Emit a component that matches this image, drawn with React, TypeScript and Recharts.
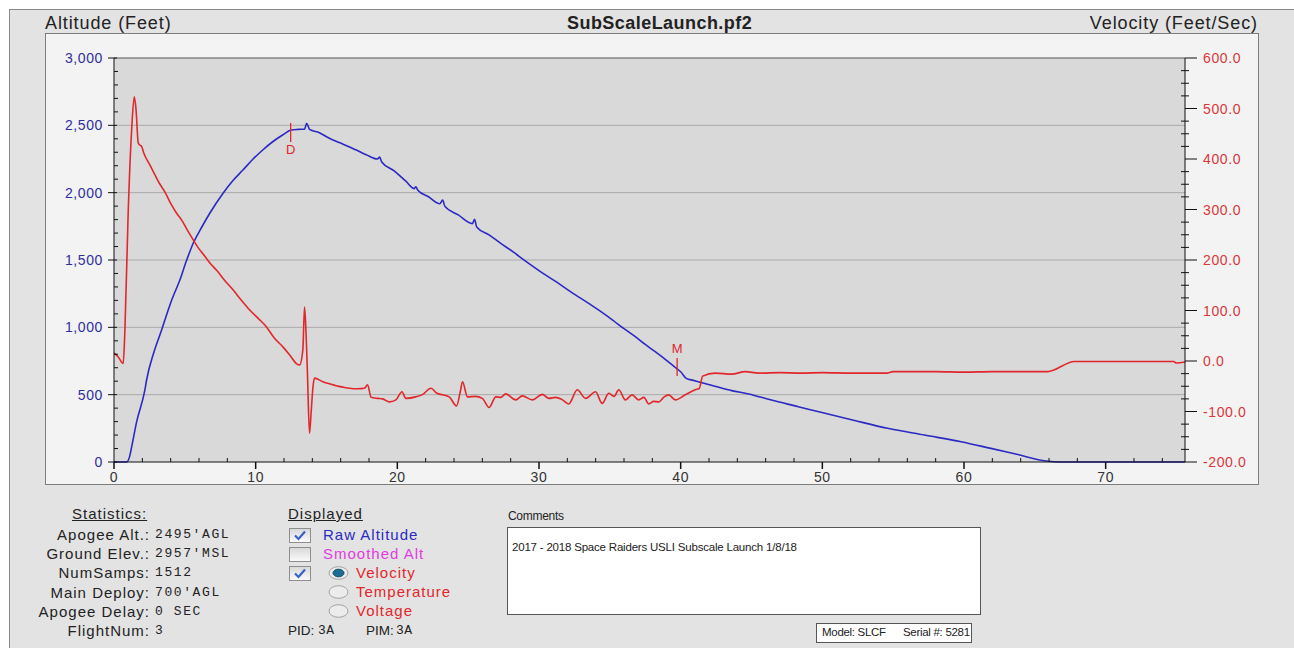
import React from 'react';
import { ComposedChart, Line, XAxis, YAxis, CartesianGrid, ReferenceLine, ReferenceDot } from 'recharts';

// altitude trace (seconds, feet AGL)
const altTime = [
  0, 0.9, 1.1, 1.25, 1.6, 2.18, 2.3, 2.8, 3.36, 3.59, 4.1, 4.65, 5.1, 5.59, 6.2, 6.76, 7.7, 8.4, 9.1, 9.8,
  10.5, 11.2, 11.9, 12.5, 13.0, 13.45, 13.6, 13.8, 14.5, 15.2, 16.0, 17.1, 17.8, 18.6, 18.75, 18.9, 19.8, 20.6,
  21.2, 21.3, 21.45, 22.2, 23.0, 23.2, 23.35, 24.3, 25.3, 25.45, 25.6, 26.5, 27.3, 28.2, 29.1, 30.1, 31.2,
  32.3, 33.5, 34.4, 35.2, 36.0, 36.8, 37.5, 38.2, 39.0, 39.7, 40.0, 40.4, 40.9, 41.5, 42.5, 43.6, 44.8,
  46.4, 48.3, 49.9, 52.2, 54.6, 57.2, 59.8, 61.9, 63.8, 65.8, 66.8, 75.6,
];
const altFeet = [
  0, 0, 40, 114, 300, 535, 609, 810, 980, 1054, 1210, 1351, 1490, 1624, 1745, 1847, 1996, 2090, 2168, 2248,
  2317, 2378, 2428, 2465, 2470, 2472, 2515, 2470, 2445, 2404, 2368, 2317, 2282, 2250, 2264, 2228, 2160, 2085,
  2030, 2044, 2018, 1970, 1918, 1946, 1900, 1835, 1770, 1802, 1745, 1685, 1624, 1558, 1488, 1414, 1339,
  1260, 1178, 1115, 1054, 990, 931, 873, 819, 755, 696, 670, 621, 606, 588, 560, 530, 505,
  460, 411, 369, 310, 250, 200, 151, 101, 55, 7, 0, 0,
];

// velocity trace (seconds, feet/sec)
const velTime = [
  0, 0.3, 0.65, 0.77, 1.0, 1.25, 1.43, 1.55, 1.71, 1.8, 1.95, 2.1, 2.54, 2.9, 3.2, 3.59, 4.0, 4.41, 4.8, 5.2,
  5.59, 6.0, 6.4, 6.8, 7.23, 7.8, 8.4, 9.0, 9.58, 10.2, 10.75, 11.3, 11.92, 12.4, 12.87, 13.1, 13.33, 13.45,
  13.55, 13.65, 13.8, 13.92, 14.05, 14.15, 14.74, 15.2, 15.68, 16.2, 16.62, 17.2, 17.68, 17.9, 18.15, 18.6,
  18.96, 19.44, 19.9, 20.33, 20.6, 21.3, 21.8, 22.37, 22.8, 23.2, 23.66, 24.18, 24.45, 24.6, 24.95, 25.5,
  26.0, 26.48, 26.95, 27.3, 27.65, 28.36, 28.82, 29.53, 30.23, 30.7, 31.18, 31.6, 32.1, 32.7, 33.29, 33.99,
  34.46, 34.93, 35.3, 35.63, 36.1, 36.57, 37.04, 37.4, 37.75, 38.1, 38.45, 38.8, 39.15, 39.63, 40.33, 41.03,
  41.32, 41.55, 42.44, 43.6, 44.56, 45.5, 47, 48.5, 50, 52, 54.6, 55, 58, 60, 62, 64, 65.9, 67.8, 70, 72,
  74.8, 75.0, 75.6,
];
const velFps = [
  16, 8, -5, 61, 293, 460, 523, 500, 432, 428, 425, 412, 388, 368, 352, 335, 312, 293, 278, 258,
  240, 222, 208, 193, 180, 160, 141, 120, 101, 84, 68, 46, 28, 12, -5, -8, 22, 107,
  60, -20, -143, -100, -50, -34, -41, -45, -49, -52, -54, -55, -54, -47, -72, -74,
  -75, -81, -77, -61, -74, -71, -66, -54, -64, -67, -71, -89, -60, -41, -71, -70,
  -74, -92, -71, -72, -65, -77, -69, -77, -66, -74, -72, -76, -85, -57, -74, -61,
  -84, -64, -70, -57, -77, -67, -77, -72, -85, -80, -81, -72, -67, -77, -67, -57,
  -54, -30, -24, -26, -21, -24, -23, -24, -23, -24, -24, -21, -21, -22, -21, -21, -21, -1, -1, -1,
  -1, -4, -2,
];

const altMajor = [0, 500, 1000, 1500, 2000, 2500, 3000];
const altGrid = [500, 1000, 1500, 2000, 2500];
const altTicks = Array.from({ length: 31 }, (_, i) => i * 100);
const velTicks = Array.from({ length: 33 }, (_, i) => -200 + i * 25);
const timeTicks = Array.from({ length: 38 }, (_, i) => i * 2);

const markers = [
  { t: 12.47, alt: 2465, label: 'D', below: true },
  { t: 39.75, alt: 690, label: 'M', below: false },
];

const stats = [
  ['Apogee Alt.:', "2495'AGL"],
  ['Ground Elev.:', "2957'MSL"],
  ['NumSamps:', '1512'],
  ['Main Deploy:', "700'AGL"],
  ['Apogee Delay:', '0 SEC'],
  ['FlightNum:', '3'],
];

const BLUE = '#2a2ac2';
const RED = '#e0272c';
const ARIAL = 'Arial, "Liberation Sans", sans-serif';
const MONO = '"Courier New", "Liberation Mono", monospace';

// merge both traces onto one time axis
const allTimes = Array.from(new Set([...altTime, ...velTime])).sort((a, b) => a - b);
const data = allTimes.map((t) => {
  const ai = altTime.indexOf(t);
  const vi = velTime.indexOf(t);
  return { t, alt: ai >= 0 ? altFeet[ai] : null, vel: vi >= 0 ? velFps[vi] : null };
});

const AltTick = (props: any) => {
  const { x, y, payload } = props;
  const v = payload.value;
  const major = altMajor.includes(v);
  return (
    <g>
      <line x1={major ? x - 6 : x} x2={major ? x + 3 : x + 4} y1={y} y2={y} stroke="#111" />
      {major && (
        <text x={x - 11} y={y + 5} textAnchor="end" fill="#2e2ea2" fontSize={14} letterSpacing={0.6} fontFamily={ARIAL}>
          {v.toLocaleString('en-US')}
        </text>
      )}
    </g>
  );
};

const VelTick = (props: any) => {
  const { x, y, payload } = props;
  const v = payload.value;
  const major = v % 100 === 0;
  return (
    <g>
      <line x1={major ? x : x - 4} x2={major ? x + 12 : x + 4} y1={y} y2={y} stroke="#111" />
      {major && (
        <text x={x + 18} y={y + 5} textAnchor="start" fill="#d8383a" fontSize={14} letterSpacing={0.6} fontFamily={ARIAL}>
          {v.toFixed(1)}
        </text>
      )}
    </g>
  );
};

const TimeTick = (props: any) => {
  const { x, y, payload } = props;
  const v = payload.value;
  const major = v % 10 === 0;
  return (
    <g>
      <line x1={x} x2={x} y1={major ? y : y - 4} y2={major ? y + 7 : y} stroke="#111" strokeWidth={major ? 1.5 : 1} />
      {major && (
        <text x={x} y={y + 20} textAnchor="middle" fill="#333" fontSize={14} letterSpacing={0.6} fontFamily={ARIAL}>
          {v}
        </text>
      )}
    </g>
  );
};

const EventMark = (props: any) => {
  const { cx, cy, label, below } = props;
  return (
    <g>
      <line x1={cx} x2={cx} y1={below ? cy - 7 : cy - 11} y2={below ? cy + 12 : cy + 7} stroke={RED} strokeWidth={1.3} />
      <text x={cx} y={below ? cy + 24 : cy - 16} textAnchor="middle" fill={RED} fontSize={13} fontFamily={ARIAL}>
        {label}
      </text>
    </g>
  );
};

const CheckBox = ({ x, y, checked }: { x: number; y: number; checked: boolean }) => (
  <svg style={{ position: 'absolute', left: x, top: y }} width={23} height={16}>
    <defs>
      <linearGradient id={`cb${y}`} x1="0" y1="0" x2="0" y2="1">
        <stop offset="0%" stopColor="#d8d8d8" />
        <stop offset="100%" stopColor="#fbfbfb" />
      </linearGradient>
    </defs>
    <rect x={0.5} y={0.5} width={21} height={14} fill={`url(#cb${y})`} stroke="#8e8e8e" />
    {checked && <path d="M6 7.5 L9.5 11 L16 3.5" stroke="#3a5fc8" strokeWidth={2.2} fill="none" />}
  </svg>
);

const Radio = ({ x, y, on }: { x: number; y: number; on: boolean }) => (
  <svg style={{ position: 'absolute', left: x, top: y }} width={22} height={15}>
    <ellipse cx={10.5} cy={7} rx={9.5} ry={6.3} fill="#ececec" stroke="#a2a2a2" />
    {on && <ellipse cx={10.5} cy={7} rx={5.5} ry={3.8} fill="#1f6d93" stroke="#114a66" />}
  </svg>
);

const txt = (left: number, cy: number, extra: React.CSSProperties = {}) => ({
  position: 'absolute' as const,
  left,
  top: cy - 10,
  lineHeight: '20px',
  fontSize: 15,
  letterSpacing: 1,
  color: '#222',
  whiteSpace: 'pre' as const,
  ...extra,
});

const App: React.FC = () => {
  return (
    <div style={{ position: 'absolute', left: 0, top: 0, width: 1294, height: 648, background: '#fff', overflow: 'hidden', fontFamily: ARIAL }}>
      <div style={{ position: 'absolute', left: 9, top: 9, width: 1290, height: 645, background: '#e3e3e3', borderLeft: '1px solid #8a8a8a', borderTop: '1px solid #8a8a8a' }} />

      <div style={{ position: 'absolute', left: 45, top: 12, lineHeight: '22px', fontSize: 18, letterSpacing: 0.9, color: '#222' }}>Altitude (Feet)</div>
      <div style={{ position: 'absolute', left: 567, top: 12, lineHeight: '22px', fontSize: 18, fontWeight: 'bold', letterSpacing: 0.45, color: '#222' }}>SubScaleLaunch.pf2</div>
      <div style={{ position: 'absolute', right: 1294 - 1258, top: 12, lineHeight: '22px', fontSize: 18, letterSpacing: 0.9, color: '#222' }}>Velocity (Feet/Sec)</div>

      <div style={{ position: 'absolute', left: 45, top: 33, width: 1214, height: 452, boxSizing: 'border-box', border: '1px solid #7d7d7d', background: '#f3f3f3' }}>
        <ComposedChart width={1212} height={450} data={data} margin={{ top: 24, left: 8, right: 13, bottom: 2 }}>
          <CartesianGrid horizontal={false} vertical={false} fill="#d9d9d9" fillOpacity={1} />
          <XAxis
            dataKey="t"
            type="number"
            domain={[0, 75.6]}
            allowDataOverflow
            ticks={timeTicks}
            interval={0}
            tick={(p: any) => <TimeTick {...p} />}
            tickSize={0}
            tickMargin={0}
            tickLine={false}
            axisLine={{ stroke: '#111' }}
            height={20}
          />
          <YAxis
            yAxisId="alt"
            orientation="left"
            type="number"
            domain={[0, 3000]}
            ticks={altTicks}
            interval={0}
            tick={(p: any) => <AltTick {...p} />}
            tickSize={0}
            tickMargin={0}
            tickLine={false}
            axisLine={{ stroke: '#111' }}
            width={60}
          />
          <YAxis
            yAxisId="vel"
            orientation="right"
            type="number"
            domain={[-200, 600]}
            ticks={velTicks}
            interval={0}
            tick={(p: any) => <VelTick {...p} />}
            tickSize={0}
            tickMargin={0}
            tickLine={false}
            axisLine={{ stroke: '#111' }}
            width={60}
          />
          {altGrid.map((v) => (
            <ReferenceLine key={v} yAxisId="alt" y={v} stroke="#a9a9a9" />
          ))}
          <ReferenceLine yAxisId="alt" y={3000} stroke="#555" />
          <Line yAxisId="alt" dataKey="alt" type="monotone" stroke={BLUE} strokeWidth={1.6} dot={false} connectNulls isAnimationActive={false} />
          <Line yAxisId="vel" dataKey="vel" type="monotone" stroke={RED} strokeWidth={1.6} dot={false} connectNulls isAnimationActive={false} />
          {markers.map((m) => (
            <ReferenceDot
              key={m.label}
              yAxisId="alt"
              x={m.t}
              y={m.alt}
              r={0}
              shape={(p: any) => <EventMark {...p} label={m.label} below={m.below} />}
            />
          ))}
        </ComposedChart>
      </div>

      <div style={txt(72, 514, { textDecoration: 'underline' })}>Statistics:</div>
      {stats.map(([label, value], i) => (
        <React.Fragment key={label}>
          <div style={{ ...txt(0, 535 + i * 19.2), left: undefined, right: 1294 - 150 }}>{label}</div>
          <div style={txt(155, 535 + i * 19.2, { fontFamily: MONO, fontSize: 13, letterSpacing: 1.6 })}>{value}</div>
        </React.Fragment>
      ))}

      <div style={txt(288, 514, { textDecoration: 'underline' })}>Displayed</div>
      <CheckBox x={289} y={528} checked />
      <div style={txt(323, 535, { color: BLUE })}>Raw Altitude</div>
      <CheckBox x={289} y={547} checked={false} />
      <div style={txt(323, 554, { color: '#e03ce0' })}>Smoothed Alt</div>
      <CheckBox x={289} y={566} checked />
      <Radio x={328} y={566} on />
      <div style={txt(356, 573, { color: RED })}>Velocity</div>
      <Radio x={328} y={585} on={false} />
      <div style={txt(356, 592, { color: RED })}>Temperature</div>
      <Radio x={328} y={604} on={false} />
      <div style={txt(356, 611, { color: RED })}>Voltage</div>
      <div style={txt(288, 631, { fontSize: 13.5, letterSpacing: 0 })}>PID:</div>
      <div style={txt(318, 631, { fontFamily: MONO, fontSize: 13, letterSpacing: 0.5 })}>3A</div>
      <div style={txt(366, 631, { fontSize: 13.5, letterSpacing: 0 })}>PIM:</div>
      <div style={txt(396, 631, { fontFamily: MONO, fontSize: 13, letterSpacing: 0.5 })}>3A</div>

      <div style={txt(508, 516, { fontSize: 12, letterSpacing: -0.3 })}>Comments</div>
      <div style={{ position: 'absolute', left: 507, top: 527, width: 474, height: 88, boxSizing: 'border-box', border: '1px solid #555', background: '#fff' }}>
        <div style={{ position: 'absolute', left: 4, top: 13, fontSize: 11.5, letterSpacing: -0.2, color: '#222', whiteSpace: 'pre' }}>
          2017 - 2018 Space Raiders USLI Subscale Launch 1/8/18
        </div>
      </div>
      <div style={{ position: 'absolute', left: 816, top: 623, width: 156, height: 20, boxSizing: 'border-box', border: '1px solid #555', background: '#fff' }}>
        <div style={{ position: 'absolute', left: 5, top: 2, fontSize: 11.5, letterSpacing: -0.3, color: '#222', whiteSpace: 'pre' }}>Model: SLCF</div>
        <div style={{ position: 'absolute', left: 86, top: 2, fontSize: 11.5, letterSpacing: -0.3, color: '#222', whiteSpace: 'pre' }}>Serial #: 5281</div>
      </div>
    </div>
  );
};

export default App;
